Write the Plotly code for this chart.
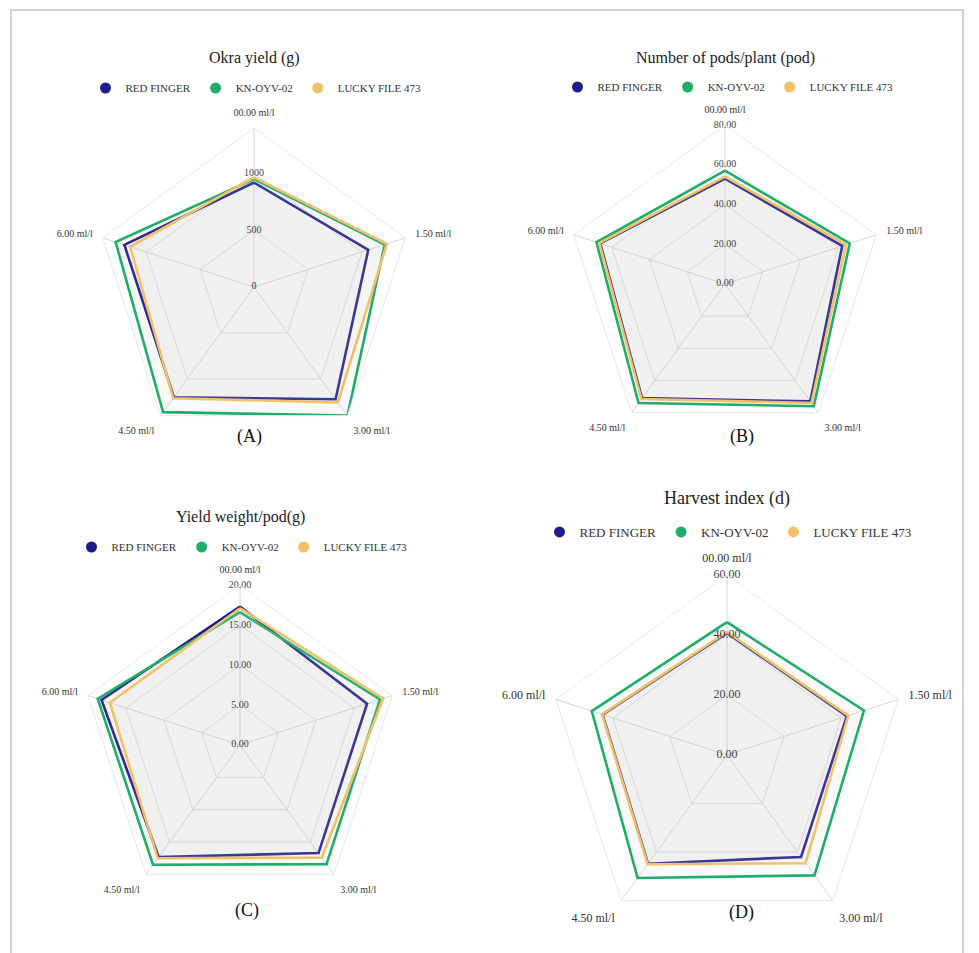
import plotly.graph_objects as go

# Spray concentrations (angular axis categories)
categories = ["00.00 ml/l", "1.50 ml/l", "3.00 ml/l", "4.50 ml/l", "6.00 ml/l"]
varieties = ["RED FINGER", "KN-OYV-02", "LUCKY FILE 473"]
variety_colors = ["#1c1c8c", "#1fae6a", "#f2c068"]

# (A) Okra yield (g)
yield_red_finger = [920, 1058, 1222, 1200, 1200]
yield_kn_oyv = [950, 1210, 1400, 1362, 1281]
yield_lucky_file = [965, 1230, 1257, 1210, 1147]
yield_ticks = [0, 500, 1000]
yield_tick_text = ["0", "500", "1000"]
yield_max = 1400

# (B) Number of pods/plant (pod)
pods_red_finger = [53, 62, 73, 71, 66]
pods_kn_oyv = [57, 66, 76, 74, 68]
pods_lucky_file = [54, 64, 74, 71.5, 66.5]
pods_ticks = [0, 20, 40, 60, 80]
pods_tick_text = ["0.00", "20.00", "40.00", "60.00", "80.00"]
pods_max = 80

# (C) Yield weight/pod (g)
weight_red_finger = [17.3, 16.7, 16.7, 17.3, 18.2]
weight_kn_oyv = [16.6, 18.4, 18.4, 18.5, 18.7]
weight_lucky_file = [17.1, 18.8, 17.4, 17.5, 17.1]
weight_ticks = [0, 5, 10, 15, 20]
weight_tick_text = ["0.00", "5.00", "10.00", "15.00", "20.00"]
weight_max = 20

# (D) Harvest index (d)
harvest_red_finger = [40.7, 42.0, 42.0, 44.8, 43.6]
harvest_kn_oyv = [44.3, 48.0, 49.6, 50.7, 47.4]
harvest_lucky_file = [41.0, 42.5, 44.6, 45.0, 43.8]
harvest_ticks = [0, 20, 40, 60]
harvest_tick_text = ["0.00", "20.00", "40.00", "60.00"]
harvest_max = 60

W, H = 979, 953
SERIF = "Liberation Serif"


def px_x(px):
    return px / W


def px_y(py):
    return 1 - py / H


panels = [
    dict(key="polar", legend="legend", title="Okra yield (g)", tag="(A)",
         series=[yield_red_finger, yield_kn_oyv, yield_lucky_file],
         ticks=yield_ticks, tick_text=yield_tick_text, rmax=yield_max,
         cx=254, cy=287, R=159, title_y=58, legend_y=88, legend_x=256,
         tag_y=437, tag_x=250, title_size=16, legend_size=11, label_size=10),
    dict(key="polar2", legend="legend2", title="Number of pods/plant (pod)", tag="(B)",
         series=[pods_red_finger, pods_kn_oyv, pods_lucky_file],
         ticks=pods_ticks, tick_text=pods_tick_text, rmax=pods_max,
         cx=725, cy=284, R=159, title_y=58, legend_y=87, legend_x=728,
         tag_y=437, tag_x=742, title_size=16, legend_size=11, label_size=10),
    dict(key="polar3", legend="legend3", title="Yield weight/pod(g)", tag="(C)",
         series=[weight_red_finger, weight_kn_oyv, weight_lucky_file],
         ticks=weight_ticks, tick_text=weight_tick_text, rmax=weight_max,
         cx=240, cy=745, R=160, title_y=517, legend_y=547, legend_x=242,
         tag_y=910, tag_x=247, title_size=16, legend_size=11, label_size=10),
    dict(key="polar4", legend="legend4", title="Harvest index (d)", tag="(D)",
         series=[harvest_red_finger, harvest_kn_oyv, harvest_lucky_file],
         ticks=harvest_ticks, tick_text=harvest_tick_text, rmax=harvest_max,
         cx=727, cy=755, R=180, title_y=498, legend_y=532, legend_x=728,
         tag_y=912, tag_x=741, title_size=18, legend_size=13, label_size=12),
]

fig = go.Figure()
layout_updates = {}
annotations = []

for p in panels:
    # variety polygons
    for name, color, vals in zip(varieties, variety_colors, p["series"]):
        fig.add_trace(go.Scatterpolar(
            r=list(vals) + [vals[0]],
            theta=categories + [categories[0]],
            mode="lines",
            fill="toself",
            fillcolor="rgba(200,200,200,0.09)",
            line=dict(color=color, width=2.6),
            subplot=p["key"],
            name=name,
            showlegend=False,
            hoverinfo="skip",
        ))
    # legend entries (round dots)
    for name, color in zip(varieties, variety_colors):
        fig.add_trace(go.Scatterpolar(
            r=[None], theta=[categories[0]],
            mode="markers",
            marker=dict(color=color, size=11, symbol="circle"),
            subplot=p["key"],
            name=name,
            legend=p["legend"],
            showlegend=True,
        ))
    # radial value labels along the top spoke (the centre label sits a
    # hair above the range minimum so it is not dropped at the origin)
    label_r = [t if t > 0 else p["rmax"] * 1e-4 for t in p["ticks"]]
    fig.add_trace(go.Scatterpolar(
        r=label_r,
        theta=[categories[0]] * len(p["ticks"]),
        mode="text",
        text=p["tick_text"],
        textposition="middle center",
        textfont=dict(family=SERIF, size=p["label_size"], color="#444444"),
        cliponaxis=False,
        subplot=p["key"],
        showlegend=False,
        hoverinfo="skip",
    ))

    R = p["R"]
    layout_updates[p["key"]] = dict(
        domain=dict(x=[px_x(p["cx"] - R), px_x(p["cx"] + R)],
                    y=[px_y(p["cy"] + R), px_y(p["cy"] - R)]),
        gridshape="linear",
        bgcolor="white",
        radialaxis=dict(range=[0, p["rmax"]], tickvals=p["ticks"],
                        showticklabels=False, ticks="", showline=False,
                        gridcolor="#dedede", gridwidth=1),
        angularaxis=dict(rotation=90, direction="clockwise",
                         categoryorder="array", categoryarray=categories,
                         gridcolor="#d6d6d6", linecolor="#e8e8e8",
                         ticks="outside", ticklen=8, tickcolor="rgba(0,0,0,0)",
                         tickfont=dict(family=SERIF, size=p["label_size"],
                                       color="#333333")),
    )
    layout_updates[p["legend"]] = dict(
        orientation="h", x=px_x(p["legend_x"]), y=px_y(p["legend_y"]),
        xanchor="center", yanchor="middle",
        font=dict(family=SERIF, size=p["legend_size"], color="#333333"),
        bgcolor="rgba(0,0,0,0)", itemwidth=30,
    )
    annotations.append(dict(
        text=p["title"], x=px_x(p["cx"]), y=px_y(p["title_y"]),
        xref="paper", yref="paper", showarrow=False,
        xanchor="center", yanchor="middle",
        font=dict(family=SERIF, size=p["title_size"], color="#222222"),
    ))
    annotations.append(dict(
        text=p["tag"], x=px_x(p["tag_x"]), y=px_y(p["tag_y"]),
        xref="paper", yref="paper", showarrow=False,
        xanchor="center", yanchor="middle",
        font=dict(family=SERIF, size=18, color="#111111"),
    ))

fig.update_layout(
    width=W, height=H,
    margin=dict(l=0, r=0, t=0, b=0),
    font=dict(family=SERIF, color="#333333"),
    paper_bgcolor="white",
    plot_bgcolor="white",
    annotations=annotations,
    shapes=[dict(type="rect", xref="paper", yref="paper",
                 x0=px_x(11), x1=px_x(963), y0=px_y(965), y1=px_y(10),
                 line=dict(color="#d0d0d0", width=2))],
    **layout_updates,
)

fig.write_html("out.html")
